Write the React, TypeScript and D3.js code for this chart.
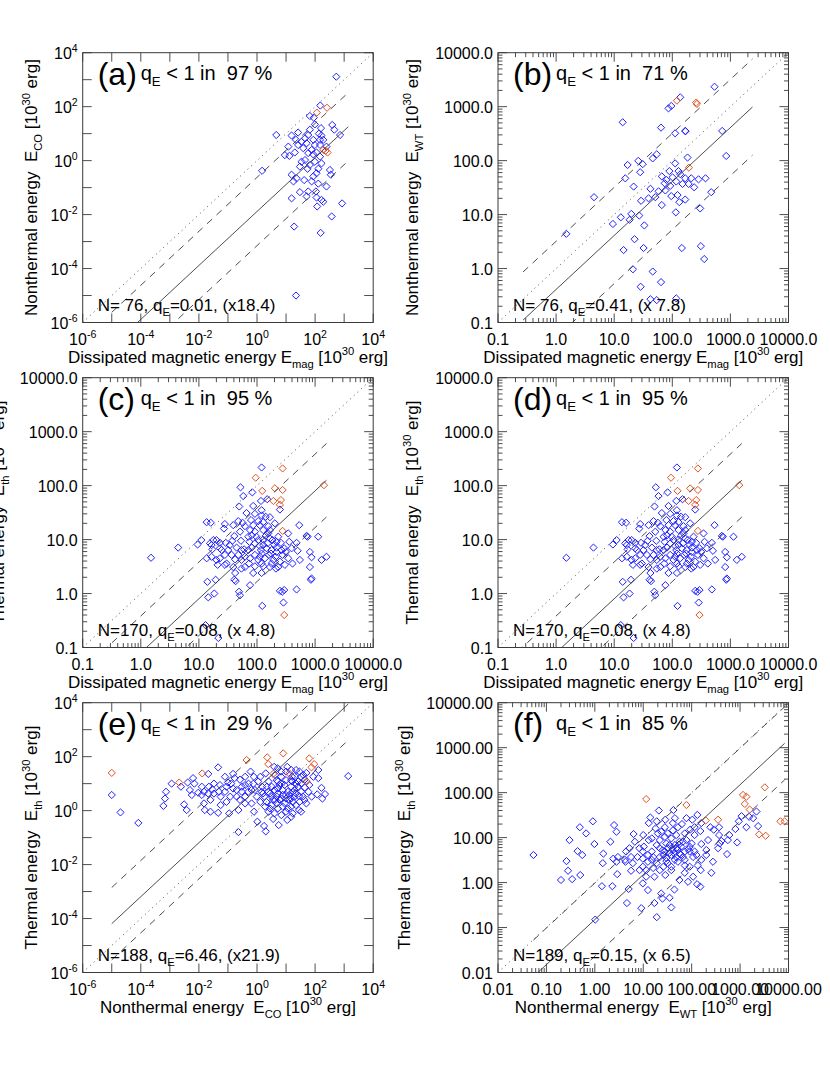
import React from 'react';
import * as d3 from 'd3';

type Pt = [number, number];
type Seg = { t: string; s?: 'sub' | 'sup' };

// ---- values: [x, y] in units of 1e30 erg ----

// (a) E_mag vs E_CO
const aBlue: Pt[] = [
  [537, 1290], [151, 110], [66, 45], [90, 39], [98, 22], [389, 21], [457, 14], [66, 14], [4.6, 8.9], [15.5, 8.5],
  [26, 11], [135, 10], [166, 8.5], [724, 8.9], [45, 6.7], [22, 5.9], [34, 5.0], [87, 5.9], [148, 5.9], [12, 3.3],
  [26, 3.8], [51, 4.4], [98, 3.8], [246, 3.3], [20, 2.0], [58, 1.9], [87, 1.7], [9.1, 1.6], [13, 1.5], [45, 1.05],
  [148, 1.4], [98, 0.91], [166, 0.79], [1.5, 0.42], [30, 0.6], [55, 0.5], [129, 0.5], [324, 0.45], [112, 0.34], [15.5, 0.3],
  [23, 0.22], [42, 0.19], [76, 0.17], [129, 0.14], [246, 0.11], [30, 0.068], [58, 0.072], [107, 0.072], [51, 0.047], [15.5, 0.04],
  [112, 0.043], [166, 0.035], [191, 0.03], [851, 0.026], [118, 0.02], [372, 0.0085], [19, 0.0036], [155, 0.0021], [22, 1e-5], [39, 2.9],
  [76, 2.5], [112, 2.0], [34, 0.91], [66, 0.69], [18, 0.17], [87, 0.26], [148, 3.8], [191, 5.9], [58, 8.9], [347, 0.3],
  [160, 16],
];
const aRed: Pt[] = [[115, 60], [257, 91], [191, 2.5], [269, 2.0], [229, 2.3]];

// (b) E_mag vs E_WT
const bBlue: Pt[] = [
  [533, 2340], [137, 1490], [86, 930], [96, 1030], [14, 513], [64, 408], [112, 321], [167, 355], [169, 350], [722, 355],
  [54, 131], [46, 110], [26, 99], [31, 86], [17, 83], [183, 114], [847, 122], [112, 89], [28, 61], [89, 64],
  [128, 64], [66, 51], [101, 49], [137, 56], [167, 47], [212, 47], [283, 45], [373, 47], [15.5, 47], [117, 41],
  [150, 37], [191, 37], [238, 32], [74, 38], [21.6, 33], [42, 30], [58, 27], [76, 28], [468, 26], [4.5, 21],
  [39, 20], [29, 18], [51, 21], [96, 22], [123, 23], [167, 19], [132, 17], [66, 15], [302, 13], [115, 11],
  [19.7, 10.3], [13, 8.9], [27, 9.6], [18.4, 8.0], [9.5, 6.7], [33, 6.3], [1.5, 4.4], [22.4, 3.5], [14.5, 2.2], [32, 2.4],
  [146, 2.4], [310, 2.6], [354, 1.5], [21, 0.97], [46, 0.88], [64, 0.56], [28.5, 0.46], [42, 0.27], [54, 0.26], [117, 0.28],
  [79, 44], [92, 34],
];
const bRed: Pt[] = [[120, 1290], [258, 1190], [265, 1120], [193, 74]];

// (c) and (d) E_mag vs E_th
const cBlue: Pt[] = [
  [120, 217], [52, 93], [83, 75], [58, 64], [150, 56], [117, 52], [49.5, 41], [86, 42], [248, 36], [120, 35],
  [66, 31], [92, 30], [120, 28], [141, 26.5], [167, 26], [47.6, 22], [56.5, 20.5], [79, 23], [105, 22], [128, 21],
  [13.6, 21], [16, 20.5], [28, 19.4], [39, 18.5], [62, 17.7], [86, 18.5], [112, 18.5], [156, 17.7], [203, 20], [533, 18.5],
  [27, 16], [51, 14], [76, 15], [92, 14], [128, 15], [156, 13], [232, 11.3], [345, 13], [741, 11.3], [1130, 11.3],
  [11, 9.8], [17.7, 9.8], [9.5, 8.1], [15.5, 8.5], [23, 8.7], [29, 8.7], [37.6, 9.5], [53, 9.5], [74, 9.1], [105, 9.8],
  [128, 10], [185, 9.8], [258, 8.7], [359, 9.1], [480, 8.7], [4.4, 7.1], [17, 6.6], [23, 6.9], [32, 6.4], [44.6, 7.1],
  [60, 6.6], [81, 7.1], [112, 7.6], [146, 6.9], [178, 6.4], [217, 7.1], [294, 6.9], [500, 6.2], [813, 5.9], [112, 4.8],
  [1.5, 4.6], [13.6, 4.5], [16.5, 4.8], [20, 4.2], [28, 5.2], [36.6, 5.2], [47.6, 5.2], [62, 4.8], [92, 5.2], [120, 5.5],
  [160, 5.2], [209, 4.8], [276, 5.2], [345, 4.5], [547, 4.2], [869, 4.7], [1290, 4.2], [21, 3.4], [30, 3.6], [39, 3.1],
  [54, 2.9], [73, 3.6], [92, 3.2], [128, 3.2], [178, 3.6], [232, 3.1], [302, 3.4], [86, 2.4], [120, 2.4], [212, 2.9],
  [813, 3.1], [42, 2.4], [14, 1.65], [19.4, 1.8], [40.6, 1.8], [43, 1.7], [76, 1.43], [49, 1.08], [480, 1.19], [869, 1.9],
  [248, 1.12], [272, 1.08], [294, 1.16], [14.5, 0.85], [18.4, 1.0], [51, 0.93], [123, 0.59], [285, 0.68], [13, 0.26], [21.6, 0.15],
  [847, 1.8], [713, 11.7], [1570, 4.8], [98, 11.3], [141, 11.7], [167, 10.5], [198, 8.1], [152, 8.5], [117, 6.4], [137, 4.5],
  [191, 4.2], [248, 3.9], [105, 4.2], [76, 4.5], [54, 4.2], [42, 4.3], [34, 7.9], [24.6, 6.4], [71, 6.4], [92, 8.5],
  [71, 11.3], [54, 6.4], [174, 5.5], [217, 5.9], [315, 5.9], [394, 6.9], [167, 3.1], [120, 3.6], [62, 3.1], [28, 3.4],
  [23, 4.5], [16.5, 7.9], [20, 9.8], [128, 7.9], [217, 9.1], [265, 6.4], [409, 3.6], [167, 15], [81, 12], [40.6, 11.6],
];
const cRed: Pt[] = [
  [276, 208], [95, 140], [123, 80], [203, 89], [276, 83], [258, 54], [191, 52], [248, 44], [276, 14.5], [294, 0.4], [1420, 102],
];

// (e) E_CO vs E_th
const eBlue: Pt[] = [
  [1e-5, 3.8], [2e-5, 0.86], [8.2e-5, 0.35], [7.4e-4, 5.0], [6.8e-4, 2.8], [6e-4, 1.5], [3.1e-3, 1.7], [3.8e-3, 1.05], [2.4e-3, 7.7], [4.1e-3, 11],
  [7e-3, 10], [4.9e-3, 5.8], [0.021, 23], [0.046, 40], [9.5e-3, 4.6], [0.015, 5.0], [0.022, 7.7], [0.033, 10], [0.015, 1.85], [0.016, 1.05],
  [0.025, 0.91], [0.046, 0.83], [0.033, 4.3], [0.053, 8.9], [0.079, 18], [0.079, 5.0], [0.056, 3.3], [0.089, 2.1], [0.1, 11], [0.15, 23],
  [0.15, 6.6], [0.11, 0.79], [0.26, 14], [0.3, 5.0], [0.23, 1.05], [0.39, 3.3], [0.51, 10], [0.6, 28], [0.79, 0.91], [1.03, 0.39],
  [1.75, 0.27], [2.0, 0.17], [0.23, 0.16], [0.65, 5.8], [1.1, 12],
  [3.9, 42], [11, 42], [6.8, 28], [22, 32], [39, 21], [26, 12], [44, 7.2], [28, 3.5], [129, 16], [118, 4.0],
  [219, 4.1], [178, 2.8], [1380, 19], [16, 18], [5.2, 12], [3.2, 7.7], [2.4, 5.0], [1.8, 3.3], [2.1, 2.1], [3.2, 1.6],
  [4.2, 2.5], [5.2, 4.3], [7.7, 5.8], [10, 3.8], [15, 7.7], [17, 5.0], [13, 2.5], [8.9, 1.85], [5.2, 1.2], [4.0, 0.79],
  [10, 0.91], [11, 0.45], [5.6, 0.29], [3.6, 0.49], [1.5, 7.7], [0.98, 3.3], [1.3, 2.1], [1.9, 1.4], [2.5, 12], [0.78, 18],
  [0.39, 8.9], [0.2, 3.3], [0.39, 1.85], [0.65, 1.85], [4.0, 5.8], [5.9, 8.9], [19.6, 3.3], [33, 5.0], [43, 2.5], [16, 12],
  [10, 13.5], [3.2, 3.3], [6.9, 2.8], [15, 1.4], [28, 1.05], [6.9, 0.68], [2.5, 0.91], [26, 7.7], [1.3, 18], [2.0, 24],
  [44, 14], [20, 19], [0.85, 5.8], [1.6, 4.3], [4.2, 21], [6.8, 18],
  [1.15e-3, 10], [6.3e-3, 16], [0.0126, 7.7], [0.029, 6.1], [0.049, 5.0], [0.025, 2.5], [0.089, 7.7], [0.13, 10], [0.2, 5.8], [0.26, 2.5],
  [0.5, 5.0], [0.3, 7.7], [0.12, 3.3], [0.056, 1.6], [0.0126, 3.8], [0.021, 4.3], [0.0057, 3.8], [0.17, 16], [0.39, 18], [0.75, 10],
  [1.46, 5.0], [2.2, 7.7], [2.8, 4.3], [3.6, 2.5], [4.8, 1.85], [4.8, 3.3], [6.0, 2.5], [7.7, 3.8], [10, 2.8], [11.5, 5.0],
  [13, 3.8], [15, 2.8], [17, 2.1], [19.6, 5.8], [22, 10], [33, 10], [38, 3.3], [8.9, 8.9], [5.2, 6.6], [2.8, 1.2],
  [7.7, 1.4], [11.5, 1.2], [17, 0.79], [22, 1.6], [29, 2.1], [59, 5.0], [76, 3.3], [63, 8.9], [87, 18], [129, 32],
  [10, 28], [5.2, 37], [15, 32], [29, 28], [15, 0.59], [33, 0.91], [22, 4.3], [50, 1.85], [6.8, 10], [4.8, 13.5],
  [15, 13.5], [33, 18], [50, 25], [166, 7.0],
];
const eRed: Pt[] = [
  [1e-5, 25], [0.0021, 11], [0.013, 24], [0.44, 75], [2.25, 94], [2.44, 53], [8.0, 132], [3.6, 23], [13, 24], [63, 86],
  [93, 53], [75, 40], [51, 12],
];

// (f) E_WT vs E_th
const fBlue: Pt[] = [
  [0.054, 4.1], [0.2, 1.14], [0.26, 3.0], [0.28, 1.83], [0.34, 1.19], [0.3, 8.8], [0.44, 5.0], [0.55, 4.1], [0.5, 1.47], [0.49, 17],
  [0.91, 23], [0.98, 7.2], [1.5, 4.4], [1.4, 0.83], [2.3, 0.83], [2.5, 19], [2.8, 13.5], [2.4, 3.4], [2.8, 2.9], [2.9, 1.54],
  [4.4, 4.9], [5.0, 0.72], [4.6, 0.35], [6.3, 12], [6.7, 8.1], [9.1, 0.27], [5.2, 5.8], [4.3, 2.9], [5.6, 3.7], [10, 11.4],
  [9.8, 3.4], [9.8, 2.25], [11.5, 1.35], [14, 28], [21, 40], [42, 41], [13, 21], [19, 23], [18, 16], [28, 17],
  [41, 21], [63, 20], [103, 25], [131, 32], [151, 14], [10.3, 6.3], [15, 9.6], [19, 6.8], [22, 8.8], [28, 10.4],
  [30, 7.4], [38, 9.6], [48, 11.4], [45, 6.8], [56, 8.1], [72, 12.4], [91, 6.3], [72, 4.9], [56, 4.4], [38, 4.1],
  [28, 4.9], [22, 3.7], [15, 3.2], [12.5, 4.1], [19, 2.7], [26, 2.25], [32, 2.7], [45, 3.2], [48, 3.7], [28.5, 1.47],
  [38, 1.89], [56, 1.14], [84, 1.04], [129, 0.92], [151, 0.81], [154, 1.89], [255, 1.65], [44, 0.7], [23.5, 0.57], [25, 0.44],
  [35, 0.46], [17, 0.35], [38, 0.28], [19, 0.17], [1.02, 0.15], [218, 8.8], [201, 5.3], [243, 17], [285, 15], [368, 17],
  [368, 11.4], [411, 8.4], [380, 7.4], [351, 5.8], [538, 4.3], [870, 7.8], [800, 15.5], [940, 23], [1070, 30], [1540, 29],
  [2180, 38], [2360, 18],
  [9.8, 4.9], [12.5, 2.9], [15, 4.9], [16, 3.7], [22, 5.8], [26, 4.1], [32, 5.8], [35, 6.8], [41, 5.3], [48, 5.8],
  [52, 2.9], [66, 3.7], [72, 3.2], [91, 4.9], [107, 3.7], [115, 4.9], [125, 4.1], [78, 8.8], [100, 7.4], [115, 11.4],
  [61, 6.3], [32, 12.4], [23.5, 13.5], [41, 14.5], [52, 17], [20, 12.4], [13, 8.8], [7.6, 3.7], [8.3, 5.8], [6.1, 2.7],
  [8.4, 1.89], [11.5, 1.89], [16, 2.1], [22, 1.89], [30, 3.0], [38, 2.25], [72, 2.4], [91, 2.25], [17, 1.35], [133, 2.4],
  [158, 3.2], [200, 4.1], [66, 8.1], [158, 7.2], [115, 17], [93, 15], [28.5, 25], [45, 27], [78, 27], [158, 21],
  [4.2, 3.2], [3.0, 3.7], [5.6, 1.83], [9.8, 0.96], [12.5, 0.68], [72, 1.65], [107, 1.35], [275, 2.9], [560, 8.8], [600, 11.4],
  [1350, 17], [1860, 27], [2.1, 8.1], [1.46, 2.7], [0.66, 12.4],
  [25, 5.2], [35, 4.6], [44, 4.4], [52, 5.5], [60, 4.2], [30, 3.5], [40, 6.0], [55, 7.0], [85, 5.5],
];
const fRed: Pt[] = [
  [11.5, 72], [78, 53], [195, 24], [351, 25], [1150, 89], [1350, 81], [1250, 56], [1580, 42], [3240, 131], [6800, 23],
  [8300, 23], [2470, 11.8], [3380, 11],
];

// fitted ratio q_E, scatter factor, and x range of the fit lines, per panel (a..f)
const qFit = [0.013, 0.41, 0.08, 0.08, 6.46, 0.15];
const spread = [18.4, 7.8, 4.8, 4.8, 21.9, 6.5];
const fitRange: Pt[] = [[1e-5, 1380], [0.27, 2400], [0.15, 1570], [0.15, 1570], [1e-5, 1380], [0.054, 8300]];
const letters = ['(a)', '(b)', '(c)', '(d)', '(e)', '(f)'];
const percents = ['97', '71', '95', '95', '29', '85'];
const noteN = ['N= 76', 'N= 76', 'N=170', 'N=170', 'N=188', 'N=189'];
const noteQ = ['0.01', '0.41', '0.08', '0.08', '6.46', '0.15'];
const noteX = ['(x18.4)', '(x 7.8)', '(x 4.8)', '(x 4.8)', '(x21.9)', '(x 6.5)'];

// tick labels
const expLabels = [-6, -4, -2, 0, 2, 4];
const oneDecTicks = [0.1, 1, 10, 100, 1000, 10000];
const oneDecLabels = ['0.1', '1.0', '10.0', '100.0', '1000.0', '10000.0'];
const twoDecTicks = [0.01, 0.1, 1, 10, 100, 1000, 10000];
const twoDecLabels = ['0.01', '0.10', '1.00', '10.00', '100.00', '1000.00', '10000.00'];

const unit: Seg[] = [{ t: ' [10' }, { t: '30', s: 'sup' }, { t: ' erg]' }];
const magTitle: Seg[] = [{ t: 'Dissipated magnetic energy E' }, { t: 'mag', s: 'sub' }, ...unit];
const coTitle: Seg[] = [{ t: 'Nonthermal energy  E' }, { t: 'CO', s: 'sub' }, ...unit];
const wtTitle: Seg[] = [{ t: 'Nonthermal energy  E' }, { t: 'WT', s: 'sub' }, ...unit];
const thTitle: Seg[] = [{ t: 'Thermal energy  E' }, { t: 'th', s: 'sub' }, ...unit];

// layout
const W = 290.5;
const H = 269.8;
const lefts = [82.7, 498];
const tops = [52.7, 377.7, 702.7];
const FONT = "'Liberation Sans', Arial, Helvetica, sans-serif";
const BLUE = '#1f1fff';
const RED = '#e2501f';
const INK = '#3a3a3a';

function Rich({ segs, size, ...rest }: { segs: Seg[]; size: number; [k: string]: any }) {
  let shift = 0;
  return (
    <text fontSize={size} style={{ whiteSpace: 'pre' }} {...rest}>
      {segs.map((g, i) => {
        const target = g.s === 'sub' ? size * 0.3 : g.s === 'sup' ? -size * 0.42 : 0;
        const dy = target - shift;
        shift = target;
        return (
          <tspan key={i} dy={dy} fontSize={g.s ? size * 0.66 : size}>
            {g.t}
          </tspan>
        );
      })}
    </text>
  );
}

interface PanelDef {
  i: number; col: number; row: number;
  domain: Pt; axis: 'exp' | 'one' | 'two';
  blue: Pt[]; red: Pt[];
  xTitle: Seg[]; yTitle: Seg[]; xLen: number; yLen: number; yTitleX: number;
}

const panels: PanelDef[] = [
  { i: 0, col: 0, row: 0, domain: [1e-6, 1e4], axis: 'exp', blue: aBlue, red: aRed, xTitle: magTitle, yTitle: coTitle, xLen: 320, yLen: 257, yTitleX: 37 },
  { i: 1, col: 1, row: 0, domain: [0.1, 1e4], axis: 'one', blue: bBlue, red: bRed, xTitle: magTitle, yTitle: wtTitle, xLen: 320, yLen: 257, yTitleX: 418 },
  { i: 2, col: 0, row: 1, domain: [0.1, 1e4], axis: 'one', blue: cBlue, red: cRed, xTitle: magTitle, yTitle: thTitle, xLen: 320, yLen: 224, yTitleX: 4 },
  { i: 3, col: 1, row: 1, domain: [0.1, 1e4], axis: 'one', blue: cBlue, red: cRed, xTitle: magTitle, yTitle: thTitle, xLen: 320, yLen: 224, yTitleX: 418 },
  { i: 4, col: 0, row: 2, domain: [1e-6, 1e4], axis: 'exp', blue: eBlue, red: eRed, xTitle: coTitle, yTitle: thTitle, xLen: 256, yLen: 224, yTitleX: 37 },
  { i: 5, col: 1, row: 2, domain: [0.01, 1e4], axis: 'two', blue: fBlue, red: fRed, xTitle: wtTitle, yTitle: thTitle, xLen: 257, yLen: 224, yTitleX: 410 },
];

const diamond = (r: number) => `M0,${-r}L${r},0L0,${r}L${-r},0Z`;

function Panel({ p }: { p: PanelDef }) {
  const x0 = lefts[p.col];
  const y0 = tops[p.row];
  const x = d3.scaleLog().domain(p.domain).range([x0, x0 + W]);
  const y = d3.scaleLog().domain(p.domain).range([y0 + H, y0]);
  const lo = Math.round(Math.log10(p.domain[0]));
  const hi = Math.round(Math.log10(p.domain[1]));

  // tick marks: [value, length]
  const ticks: [number, number][] = [];
  d3.range(lo, hi + 1).forEach((e) => ticks.push([Math.pow(10, e), 9]));
  if (p.axis !== 'exp') {
    d3.range(lo, hi).forEach((e) =>
      d3.range(2, 10).forEach((m) => ticks.push([m * Math.pow(10, e), 4.5]))
    );
  }

  // tick labels
  let labels: { v: number; segs: Seg[] }[];
  if (p.axis === 'exp') {
    labels = expLabels.map((e) => ({ v: Math.pow(10, e), segs: [{ t: '10' }, { t: String(e), s: 'sup' as const }] }));
  } else if (p.axis === 'one') {
    labels = oneDecTicks.map((v, k) => ({ v, segs: [{ t: oneDecLabels[k] }] }));
  } else {
    labels = twoDecTicks.map((v, k) => ({ v, segs: [{ t: twoDecLabels[k] }] }));
  }

  const q = qFit[p.i];
  const k = spread[p.i];
  const [r0, r1] = fitRange[p.i];
  const fitLine = (ratio: number, dash: string | undefined, key: string) => (
    <line key={key} x1={x(r0)} y1={y(r0 * ratio)} x2={x(r1)} y2={y(r1 * ratio)}
      stroke={INK} strokeWidth={0.9} strokeDasharray={dash} />
  );
  const clipId = `clip-${p.i}`;

  return (
    <g>
      <defs>
        <clipPath id={clipId}>
          <rect x={x0} y={y0} width={W} height={H} />
        </clipPath>
      </defs>

      {/* symbols */}
      {p.blue.map((d, j) => (
        <path key={'b' + j} d={diamond(3.6)} transform={`translate(${x(d[0])},${y(d[1])})`}
          fill="none" stroke={BLUE} strokeWidth={1} />
      ))}
      {p.red.map((d, j) => (
        <path key={'r' + j} d={diamond(3.6)} transform={`translate(${x(d[0])},${y(d[1])})`}
          fill="none" stroke={RED} strokeWidth={1} />
      ))}

      {/* y = x (dotted), fit (solid) and scatter band (dashed) */}
      <g clipPath={`url(#${clipId})`}>
        <line x1={x(p.domain[0])} y1={y(p.domain[0])} x2={x(p.domain[1])} y2={y(p.domain[1])}
          stroke={INK} strokeWidth={0.9} strokeDasharray="1,4" />
        {fitLine(q, undefined, 'fit')}
        {fitLine(q * k, '7,6', 'up')}
        {fitLine(q / k, '7,6', 'dn')}
      </g>

      {/* frame and ticks on all four sides */}
      <rect x={x0} y={y0} width={W} height={H} fill="none" stroke={INK} strokeWidth={1} />
      {ticks.map(([v, len], j) => (
        <g key={'t' + j} stroke={INK} strokeWidth={0.9}>
          <line x1={x(v)} x2={x(v)} y1={y0 + H} y2={y0 + H - len} />
          <line x1={x(v)} x2={x(v)} y1={y0} y2={y0 + len} />
          <line y1={y(v)} y2={y(v)} x1={x0} x2={x0 + len} />
          <line y1={y(v)} y2={y(v)} x1={x0 + W} x2={x0 + W - len} />
        </g>
      ))}

      {labels.map((l, j) => (
        <Rich key={'xl' + j} segs={l.segs} size={16} x={x(l.v)} y={y0 + H + 22.5} textAnchor="middle" />
      ))}
      {labels.map((l, j) => (
        <Rich key={'yl' + j} segs={l.segs} size={16} x={x0 - 5} y={y(l.v) + 6} textAnchor="end" />
      ))}

      <Rich segs={p.xTitle} size={17} x={x0 + W / 2} y={y0 + H + 40} textAnchor="middle"
        textLength={p.xLen} lengthAdjust="spacing" />
      <Rich segs={p.yTitle} size={17} textAnchor="middle" textLength={p.yLen} lengthAdjust="spacing"
        transform={`translate(${p.yTitleX},${y0 + H / 2}) rotate(-90)`} />

      {/* annotations */}
      <text x={x0 + 15} y={y0 + 32} fontSize={32}>{letters[p.i]}</text>
      <Rich segs={[{ t: 'q' }, { t: 'E', s: 'sub' }, { t: ` < 1 in  ${percents[p.i]} %` }]} size={20}
        x={x0 + 58} y={y0 + 27} />
      <Rich segs={[{ t: `${noteN[p.i]}, q` }, { t: 'E', s: 'sub' }, { t: `=${noteQ[p.i]}, ${noteX[p.i]}` }]} size={17}
        x={x0 + 15} y={y0 + H - 12} />
    </g>
  );
}

export default function App() {
  return (
    <svg width={830} height={1081} viewBox="0 0 830 1081"
      style={{ position: 'absolute', left: 0, top: 0, background: '#fff' }}
      fontFamily={FONT} fill="#000">
      {panels.map((p) => (
        <Panel key={p.i} p={p} />
      ))}
    </svg>
  );
}
